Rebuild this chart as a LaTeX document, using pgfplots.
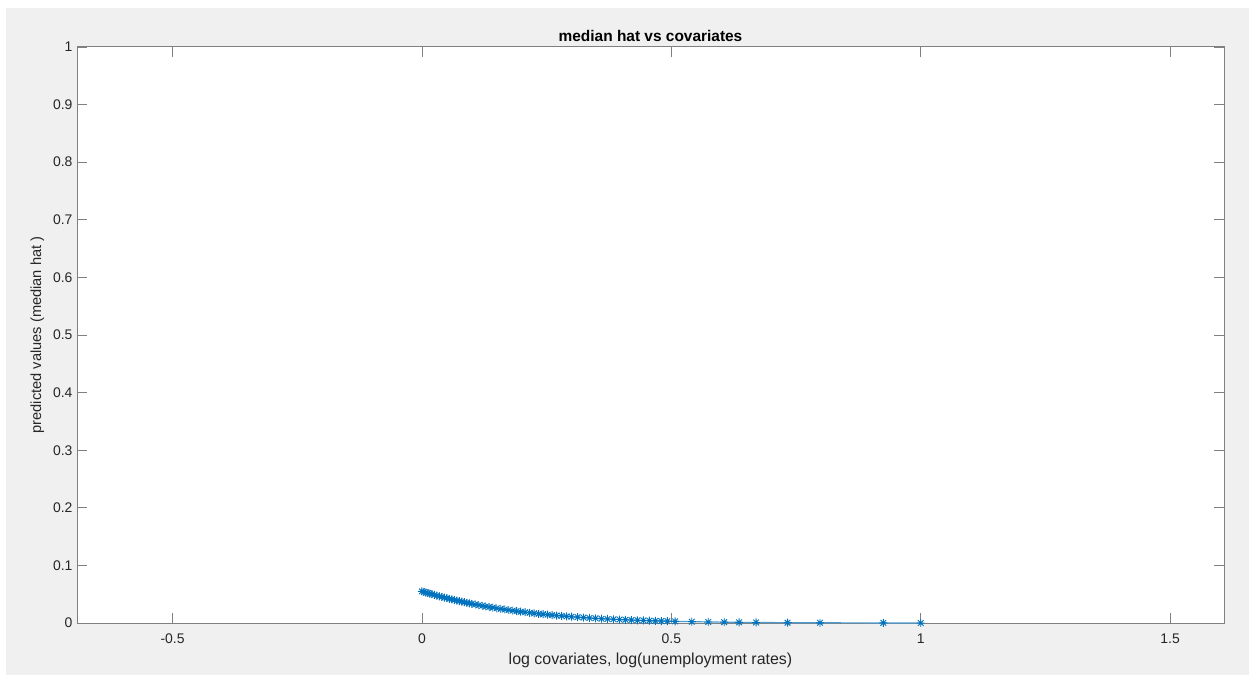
\documentclass[border=0pt]{standalone}
\usepackage{fontspec}
\setmainfont{Liberation Sans}
\usepackage{pgfplots}
\pgfplotsset{compat=1.18}
\definecolor{mblue}{rgb}{0,0.447,0.741}
\definecolor{bggray}{HTML}{F0F0F0}
\definecolor{axgray}{HTML}{808080}
\definecolor{txt}{HTML}{262626}
\pgfdeclareplotmark{mstar}{%
  \pgfpathmoveto{\pgfqpoint{-\pgfplotmarksize}{0pt}}\pgfpathlineto{\pgfqpoint{\pgfplotmarksize}{0pt}}%
  \pgfpathmoveto{\pgfqpoint{0pt}{-\pgfplotmarksize}}\pgfpathlineto{\pgfqpoint{0pt}{\pgfplotmarksize}}%
  \pgfpathmoveto{\pgfqpoint{-0.7071\pgfplotmarksize}{-0.7071\pgfplotmarksize}}\pgfpathlineto{\pgfqpoint{0.7071\pgfplotmarksize}{0.7071\pgfplotmarksize}}%
  \pgfpathmoveto{\pgfqpoint{-0.7071\pgfplotmarksize}{0.7071\pgfplotmarksize}}\pgfpathlineto{\pgfqpoint{0.7071\pgfplotmarksize}{-0.7071\pgfplotmarksize}}%
  \pgfusepathqstroke}
\begin{document}
\begin{tikzpicture}
\fill[white] (0,0) rectangle (1249bp,675bp);
\fill[bggray] (6bp,0) rectangle (1249bp,667bp);
\begin{axis}[
  at={(77bp,52bp)}, anchor=south west,
  scale only axis, width=1147bp, height=576bp,
  xmin=-0.6915, xmax=1.608, ymin=0, ymax=1,
  axis background/.style={fill=white},
  axis line style={axgray, line width=1bp},
  tick style={axgray, line width=0.8bp},
  tick align=inside, major tick length=10bp,
  xtick={-0.5,0,0.5,1,1.5},
  ytick={0,0.1,0.2,0.3,0.4,0.5,0.6,0.7,0.8,0.9,1},
  yticklabels={0,0.1,0.2,0.3,0.4,0.5,0.6,0.7,0.8,0.9,1},
  xticklabels={-0.5,0,0.5,1,1.5},
  ticklabel style={font=\fontsize{14}{16}\selectfont, text=txt},
  xticklabel style={yshift=-7bp},
  yticklabel style={xshift=-1bp},
  title={\bfseries median hat vs covariates},
  title style={font=\fontsize{15.5}{18}\selectfont, text=black, yshift=-4bp},
  xlabel={log covariates, log(unemployment rates)},
  ylabel={predicted values (median hat )},
  xlabel style={font=\fontsize{16}{18}\selectfont, text=txt, yshift=-3bp},
  ylabel style={font=\fontsize{14.7}{17}\selectfont, text=txt, yshift=2bp},
  clip=false,
]
\addplot[color=mblue!70, line width=1.2bp, mark=mstar, mark size=4bp,
  mark options={mblue, line width=0.9bp}] coordinates {
(0,0.0550) (0.004,0.05395) (0.008,0.05292) (0.012,0.05191) (0.016,0.05091)
(0.020,0.04993) (0.025,0.04872) (0.030,0.04754) (0.035,0.04638) (0.040,0.04525)
(0.045,0.04414) (0.050,0.04305) (0.055,0.04198) (0.060,0.04094) (0.065,0.03992)
(0.070,0.03892) (0.075,0.03794) (0.080,0.03699) (0.085,0.03605) (0.090,0.03513)
(0.095,0.03424) (0.100,0.03336) (0.107,0.03216) (0.114,0.03100) (0.121,0.02988)
(0.128,0.02879) (0.135,0.02774) (0.142,0.02672) (0.150,0.02559) (0.158,0.02451)
(0.166,0.02346) (0.174,0.02246) (0.182,0.02149) (0.190,0.02056) (0.198,0.01966)
(0.207,0.01869) (0.216,0.01777) (0.225,0.01688) (0.234,0.01603) (0.243,0.01522)
(0.252,0.01445) (0.261,0.01371) (0.270,0.01301) (0.280,0.01226) (0.290,0.01156)
(0.300,0.01088) (0.312,0.01013) (0.324,0.00941) (0.336,0.00875) (0.348,0.00812)
(0.360,0.00754) (0.372,0.00699) (0.384,0.00648) (0.396,0.00601) (0.408,0.00556)
(0.420,0.00515) (0.432,0.00476) (0.444,0.00440) (0.456,0.00407) (0.468,0.00375)
(0.480,0.00347) (0.492,0.00320) (0.5075,0.00288) (0.541,0.00228) (0.574,0.00181)
(0.606,0.00144) (0.636,0.00116) (0.670,0.00090) (0.733,0.00056) (0.798,0.00033)
(0.925,0.00012) (1.000,0.00006)
};
\end{axis}
\end{tikzpicture}
\end{document}
